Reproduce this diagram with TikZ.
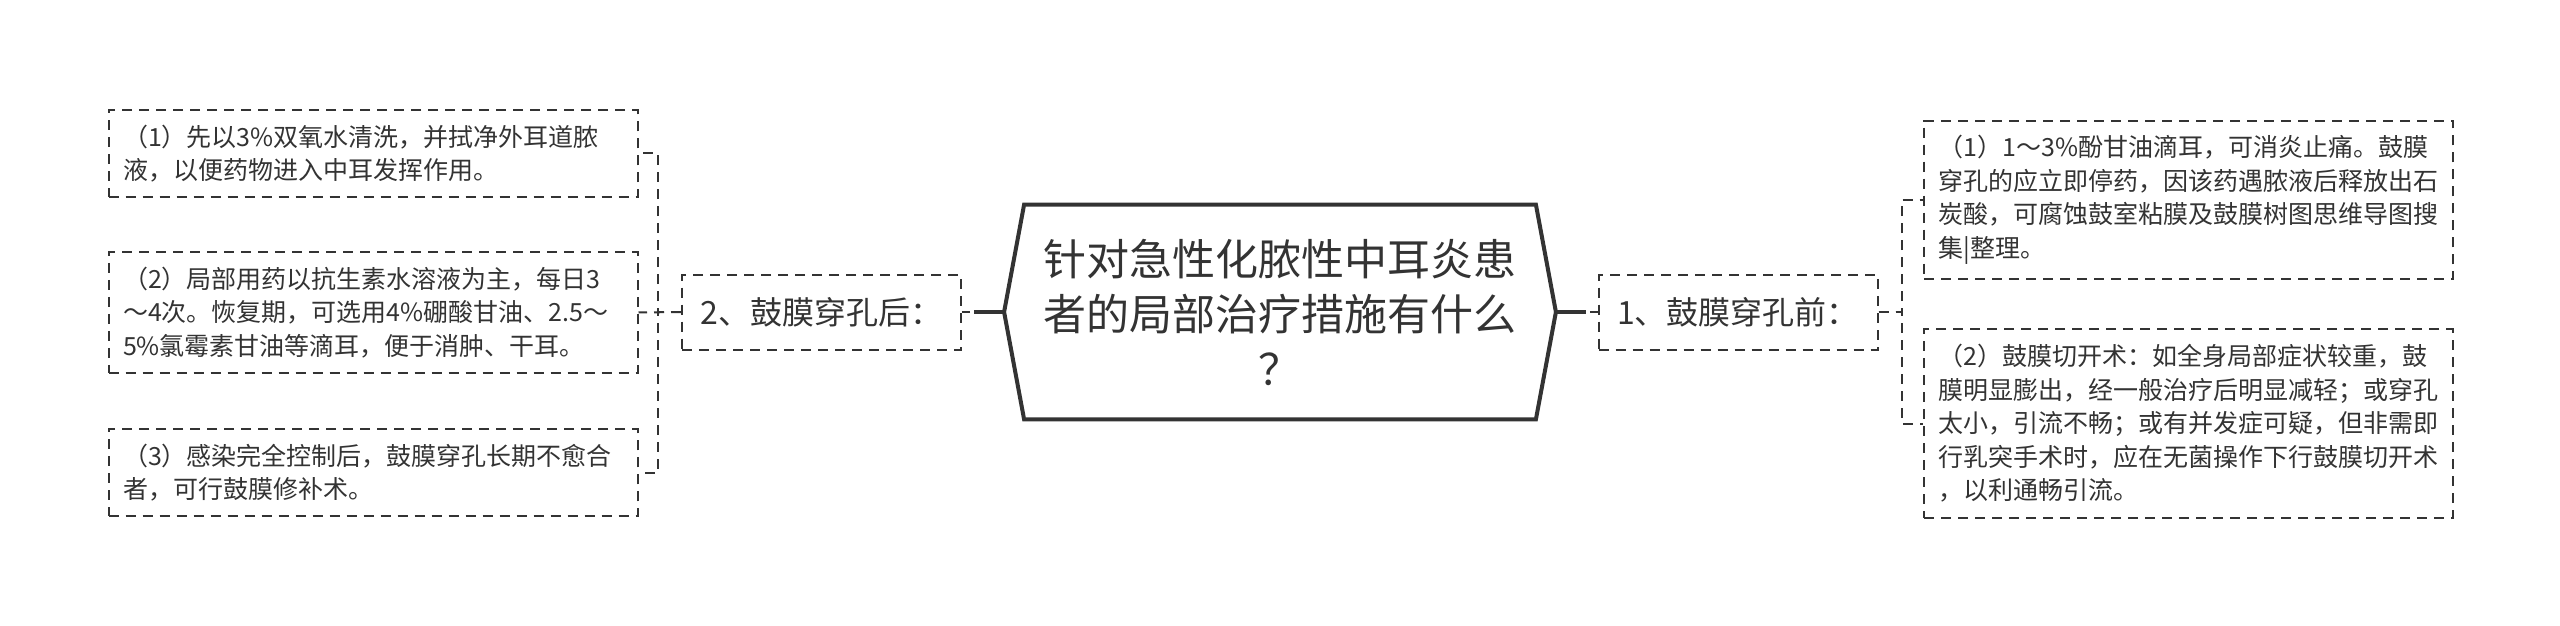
\documentclass[tikz,border=0pt]{standalone}
\usepackage{fontspec}
\setmainfont{Noto Sans CJK SC}
\usetikzlibrary{positioning, calc}

\definecolor{ink}{HTML}{333333}

\begin{document}
\begin{tikzpicture}[
    x=0.5pt, y=-0.5pt,
    ink,
    root/.style={minimum width=255.5pt, minimum height=107pt, inner sep=0pt, align=center, font=\fontsize{21.5}{27.5}\selectfont},
    rootline/.style={line width=2pt, line join=miter},
    branch/.style={draw, dash pattern=on 5pt off 3.5pt, line width=1pt, minimum width=139.5pt, minimum height=37.5pt, font=\fontsize{16}{20}\selectfont},
    leaf/.style={draw, dash pattern=on 5pt off 3.5pt, line width=1pt, text width=250pt, inner xsep=7.25pt, inner ysep=7.5pt, align=left, font=\fontsize{12.5}{16.75}\selectfont},
    link/.style={dash pattern=on 5pt off 3.5pt, line width=1pt},
    trunk/.style={line width=2pt}
]
    \useasboundingbox (0,0) rectangle (2560,626);

    % Central topic
    \node[root] (root) at (1280, 312) {针对急性化脓性中耳炎患\\者的局部治疗措施有什么\\？};
    \coordinate (tipL) at ($(root.west)+(-10pt,0)$);
    \coordinate (tipR) at ($(root.east)+(10pt,0)$);
    \draw[rootline] (root.north west) -- (root.north east) -- (tipR) -- (root.south east) -- (root.south west) -- (tipL) -- cycle;

    % Branches
    \node[branch] (post) at (821.5, 312) {2、鼓膜穿孔后：};
    \node[branch] (pre) at (1738, 312) {1、鼓膜穿孔前：};

    % Left leaves
    \node[leaf] (l1) at (373, 153.5) {（1）先以3\%双氧水清洗，并拭净外耳道脓\\液，以便药物进入中耳发挥作用。};
    \node[leaf] (l2) at (373, 312.5) {（2）局部用药以抗生素水溶液为主，每日3\\～4次。恢复期，可选用4\%硼酸甘油、2.5～\\5\%氯霉素甘油等滴耳，便于消肿、干耳。};
    \node[leaf] (l3) at (373, 472.5) {（3）感染完全控制后，鼓膜穿孔长期不愈合\\者，可行鼓膜修补术。};

    % Right leaves
    \node[leaf] (r1) at (2188.5, 200) {（1）1～3\%酚甘油滴耳，可消炎止痛。鼓膜\\穿孔的应立即停药，因该药遇脓液后释放出石\\炭酸，可腐蚀鼓室粘膜及鼓膜树图思维导图搜\\集|整理。};
    \node[leaf] (r2) at (2188.5, 423.5) {（2）鼓膜切开术：如全身局部症状较重，鼓\\膜明显膨出，经一般治疗后明显减轻；或穿孔\\太小，引流不畅；或有并发症可疑，但非需即\\行乳突手术时，应在无菌操作下行鼓膜切开术\\，以利通畅引流。};

    % Root to branches
    \draw[link] (tipL) -- (post.east);
    \draw[trunk] (tipL) -- ++(-15pt,0);
    \draw[link] (tipR) -- (pre.west);
    \draw[trunk] (tipR) -- ++(15pt,0);

    % Branches to leaves
    \draw[link] (post.west) -- ++(-11.5pt,0) |- (l1.east);
    \draw[link] (post.west) -- (l2.east);
    \draw[link] (post.west) -- ++(-11.5pt,0) |- (l3.east);
    \draw[link] (pre.east) -- ++(11.5pt,0) |- (r1.west);
    \draw[link] (pre.east) -- ++(11.5pt,0) |- (r2.west);

\end{tikzpicture}
\end{document}
